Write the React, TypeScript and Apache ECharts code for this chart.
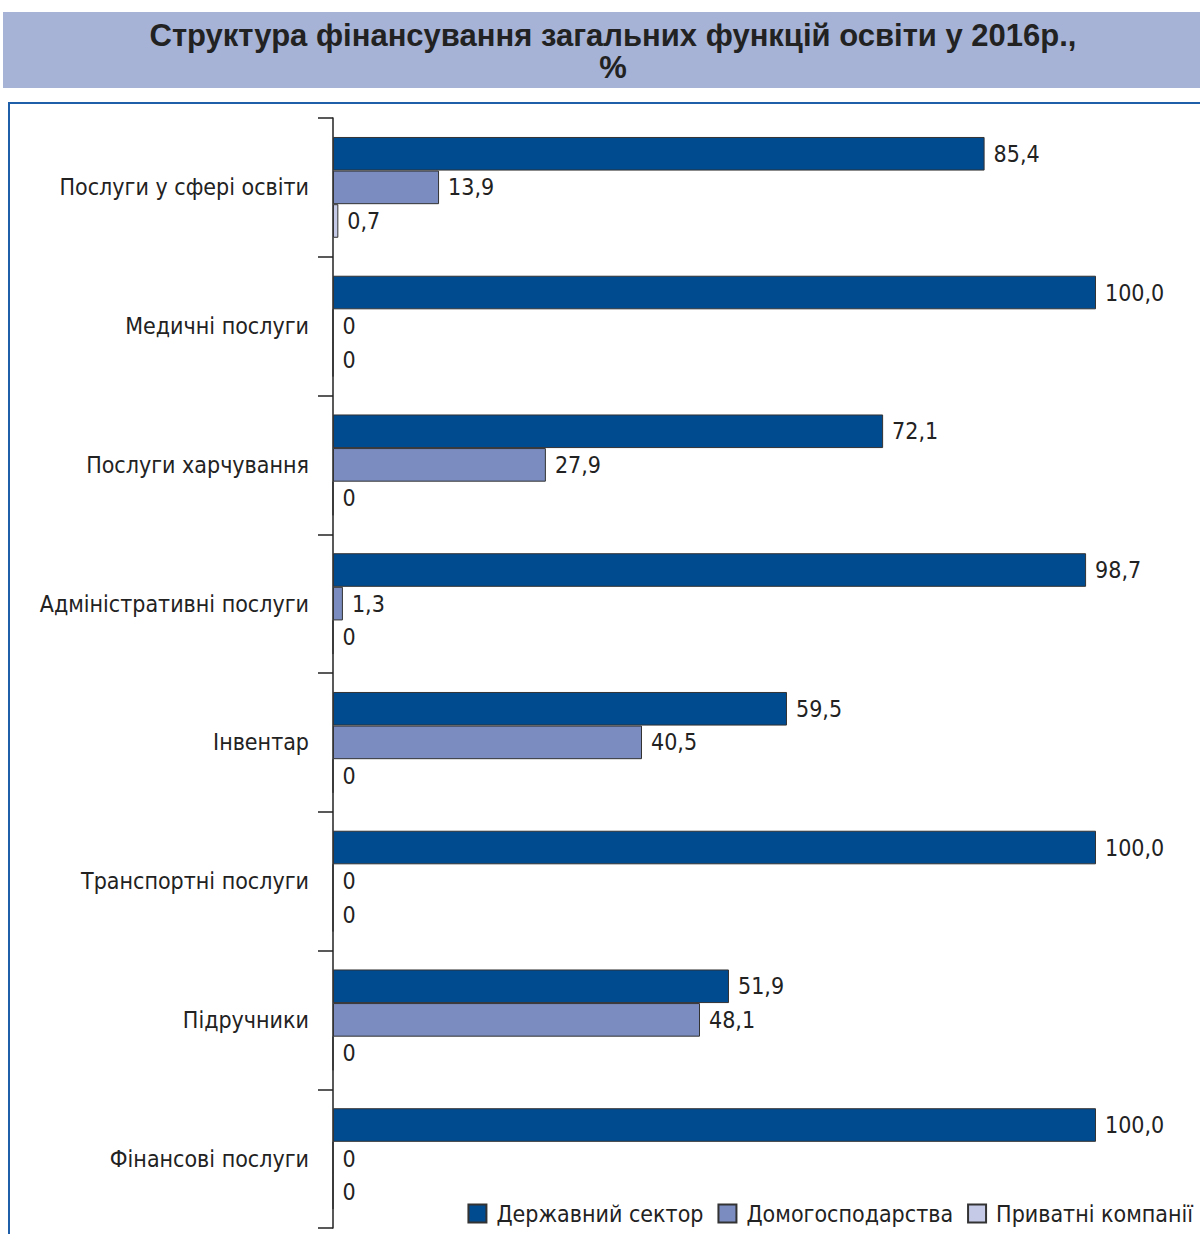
import React, { useEffect, useRef } from "react";
import * as echarts from "echarts";

const categories = [
  "Послуги у сфері освіти",
  "Медичні послуги",
  "Послуги харчування",
  "Адміністративні послуги",
  "Інвентар",
  "Транспортні послуги",
  "Підручники",
  "Фінансові послуги",
];
const seriesNames = ["Державний сектор", "Домогосподарства", "Приватні компанії"];
const stateValues = [85.4, 100.0, 72.1, 98.7, 59.5, 100.0, 51.9, 100.0];
const householdValues = [13.9, 0, 27.9, 1.3, 40.5, 0, 48.1, 0];
const privateValues = [0.7, 0, 0, 0, 0, 0, 0, 0];
const colors = ["#004a8f", "#7a8cc0", "#c5cbe6"];
const titleText = "Структура фінансування загальних функцій освіти у 2016р.,\n%";

const FONT = "'Liberation Sans Narrow', 'DejaVu Sans Condensed', sans-serif";

function fmt(v: number) {
  return v === 0 ? "0" : v.toFixed(1).replace(".", ",");
}

export default function App() {
  const ref = useRef<HTMLDivElement>(null);
  useEffect(() => {
    if (!ref.current) return;
    const chart = echarts.init(ref.current, null, { renderer: "svg" });
    const data = [stateValues, householdValues, privateValues];
    chart.setOption({
      animation: false,
      backgroundColor: "#ffffff",
      graphic: [
        {
          type: "rect",
          shape: { x: 3, y: 12, width: 1200, height: 76 },
          style: { fill: "#a6b3d6" },
          z: 0,
        },
        {
          type: "line",
          shape: { x1: 8, y1: 103, x2: 1200, y2: 103 },
          style: { stroke: "#1f5ea8", lineWidth: 2 },
        },
        {
          type: "line",
          shape: { x1: 9, y1: 102, x2: 9, y2: 1234 },
          style: { stroke: "#1f5ea8", lineWidth: 2 },
        },
      ],
      title: {
        text: titleText,
        left: 608,
        textAlign: "center",
        top: 14,
        textStyle: {
          fontFamily: "'Liberation Sans', Arial, sans-serif",
          fontWeight: "bold",
          fontSize: 31,
          lineHeight: 32,
          color: "#222222",
        },
      },
      legend: {
        right: 2,
        top: 1197,
        itemWidth: 18,
        itemHeight: 18,
        itemGap: 14,
        icon: "rect",
        textStyle: { fontFamily: FONT, fontSize: 23, color: "#222222", padding: [0, 0, 0, 5] },
        data: seriesNames,
      },
      grid: { left: 333, top: 118, width: 763, height: 1110, containLabel: false },
      xAxis: {
        type: "value",
        min: 0,
        max: 100,
        show: false,
      },
      yAxis: {
        type: "category",
        data: categories,
        inverse: true,
        axisLine: { show: true, lineStyle: { color: "#222222", width: 1.5 } },
        axisTick: { show: true, length: 15, lineStyle: { color: "#222222", width: 1.5 } },
        axisLabel: { fontFamily: FONT, fontSize: 23, color: "#222222", margin: 24 },
      },
      series: seriesNames.map((name, i) => ({
        name,
        type: "bar",
        data: data[i],
        barWidth: 33.6,
        barGap: "0%",
        itemStyle: { color: colors[i], borderColor: "#333333", borderWidth: 1 },
        label: {
          show: true,
          position: "right",
          distance: 9,
          fontFamily: FONT,
          fontSize: 23,
          color: "#222222",
          formatter: (p: any) => fmt(p.value),
        },
      })),
    });
    return () => chart.dispose();
  }, []);
  return (
    <div
      ref={ref}
      style={{ position: "absolute", left: 0, top: 0, width: 1200, height: 1234 }}
    />
  );
}
